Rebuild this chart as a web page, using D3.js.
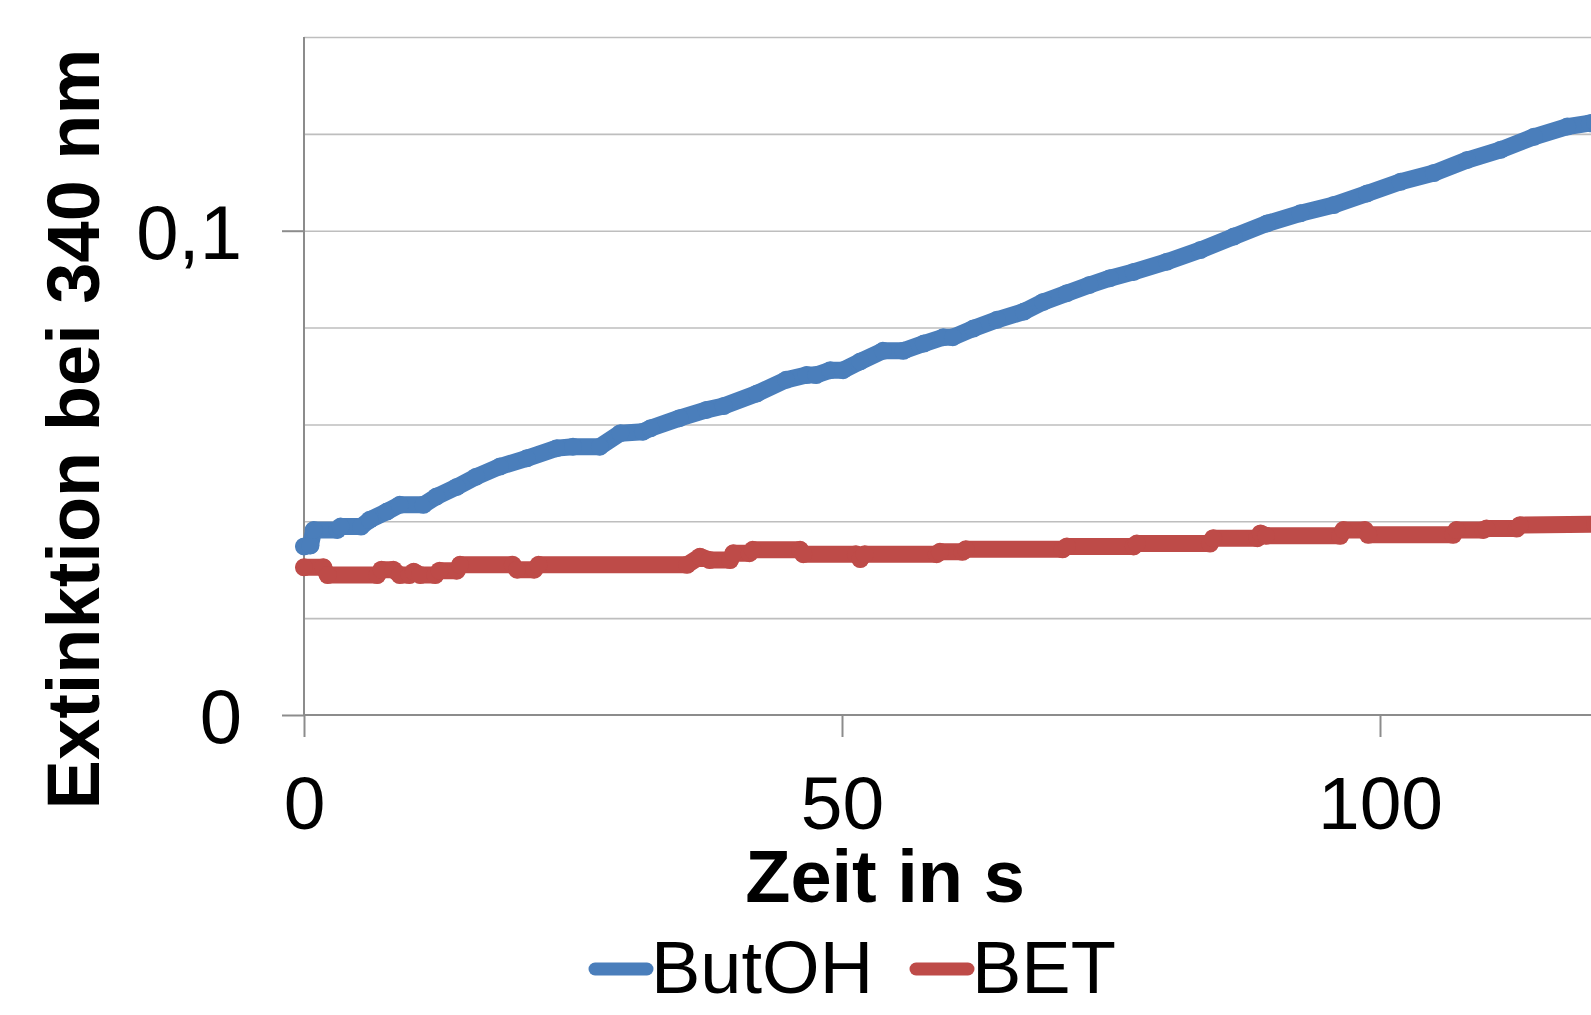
<!DOCTYPE html>
<html>
<head>
<meta charset="utf-8">
<script src="https://cdn.jsdelivr.net/npm/d3@7"></script>
<style>
  html, body { margin: 0; padding: 0; background: #fff; overflow: hidden; }
  svg { display: block; font-family: "Liberation Sans", Arial, sans-serif; }
</style>
</head>
<body>
<svg id="chart" width="1591" height="1015"></svg>
<script>
// ---- data ----
const seriesNames = ["ButOH", "BET"];
const seriesColors = ["#4A7EBB", "#BE4B48"];
const butohTime = [0,0.6,0.9,3.1,3.4,5.3,6.1,7.7,8.9,11.1,12.3,14.2,16.0,18.2,20.7,23.5,25,27.5,29.4,31.5,32.2,34.9,37.4,39.0,42.1,44.8,46.7,47.6,48.9,50.1,51.7,53.8,55.7,57.6,59.4,60.3,62.2,64.4,66.9,68.7,70.9,73.0,74.9,77.1,80.2,83.3,86.4,89.5,92.6,95.7,98.8,101.9,105.0,108.1,111.2,114.3,117.4,119.5,120];
const butohValues = [0.0348,0.0350,0.0382,0.0382,0.0389,0.0389,0.0403,0.0420,0.0434,0.0434,0.0451,0.0471,0.0492,0.0513,0.0530,0.0551,0.0554,0.0554,0.0582,0.0585,0.0592,0.0613,0.0630,0.0638,0.0664,0.0692,0.0702,0.0702,0.0712,0.0712,0.0730,0.0752,0.0752,0.0767,0.0780,0.0780,0.0798,0.0816,0.0833,0.0853,0.0871,0.0888,0.0902,0.0915,0.0936,0.0960,0.0988,0.1015,0.1036,0.1053,0.1077,0.1101,0.1119,0.1146,0.1167,0.1194,0.1215,0.1222,0.1224];
const betTime = [0,1.8,2.2,6.8,7.2,8.3,8.9,9.8,10.2,10.8,12.2,12.6,14.2,14.5,19.4,19.8,21.4,21.8,35.6,36.8,37.7,39.6,39.9,41.4,41.7,46.1,46.4,51.3,51.7,52.1,58.8,59.1,61.2,61.5,70.5,70.9,77.1,77.4,84.2,84.5,88.6,88.9,89.4,96.3,96.6,98.6,98.9,106.8,107.1,109.6,109.9,112.7,113.0,120];
const betValues = [0.0305,0.0305,0.0289,0.0289,0.0300,0.0300,0.0289,0.0289,0.0296,0.0289,0.0289,0.0298,0.0298,0.0310,0.0310,0.0300,0.0300,0.0310,0.0310,0.0327,0.0320,0.0320,0.0334,0.0334,0.0341,0.0341,0.0332,0.0332,0.0322,0.0332,0.0332,0.0337,0.0337,0.0342,0.0342,0.0348,0.0348,0.0354,0.0354,0.0365,0.0365,0.0375,0.0370,0.0370,0.0382,0.0382,0.0372,0.0372,0.0382,0.0382,0.0385,0.0385,0.0392,0.0394];
const xTickValues = [0, 50, 100];
const yTickValues = [0, 0.1];
const yGridValues = [0.02, 0.04, 0.06, 0.08, 0.10, 0.12, 0.14];
const xTitle = "Zeit in s";
const yTitle = "Extinktion bei 340 nm";

// ---- layout ----
const svg = d3.select("#chart");
const pLeft = 304, pRight = 304 + 120 * 10.76, pTop = 37, pBottom = 715;
const x = d3.scaleLinear().domain([0, 120]).range([pLeft, pRight]);
const y = d3.scaleLinear().domain([0, 0.14]).range([pBottom, pTop]);
const deFmt = d3.formatLocale({decimal: ",", thousands: ".", grouping: [3], currency: ["", " €"]}).format("~g");

// gridlines
svg.append("g")
  .attr("transform", `translate(${pLeft},0)`)
  .call(d3.axisLeft(y).tickValues(yGridValues).tickSize(-(pRight - pLeft)).tickFormat(""))
  .call(g => g.select(".domain").remove())
  .call(g => g.selectAll(".tick line").attr("stroke", "#BEBEBE").attr("stroke-width", 1.6));

// y axis
const yAxis = svg.append("g")
  .attr("transform", `translate(${pLeft},0)`)
  .call(d3.axisLeft(y).tickValues(yTickValues).tickSize(22).tickPadding(40).tickFormat(deFmt));
yAxis.select(".domain").attr("stroke", "#8C8C8C").attr("stroke-width", 2).attr("d", `M0,${pTop}V${pBottom}`);
yAxis.selectAll(".tick line").attr("stroke", "#8C8C8C").attr("stroke-width", 2);
yAxis.selectAll(".tick text").attr("font-size", 76).attr("fill", "#000").attr("dy", "0.36em").attr("x", -62);

// x axis
const xAxis = svg.append("g")
  .attr("transform", `translate(0,${pBottom})`)
  .call(d3.axisBottom(x).tickValues(xTickValues).tickSize(22).tickPadding(40).tickFormat(deFmt));
xAxis.select(".domain").attr("stroke", "#8C8C8C").attr("stroke-width", 2).attr("d", `M${pLeft},0H${pRight}`);
xAxis.selectAll(".tick line").attr("stroke", "#8C8C8C").attr("stroke-width", 2);
xAxis.selectAll(".tick text").attr("font-size", 75).attr("fill", "#000").attr("dy", null).attr("y", 114);

// series
const series = [
  {name: seriesNames[0], color: seriesColors[0], pts: butohTime.map((t, i) => [t, butohValues[i]])},
  {name: seriesNames[1], color: seriesColors[1], pts: betTime.map((t, i) => [t, betValues[i]])}
];
const lineGen = d3.line().x(d => x(d[0])).y(d => y(d[1]));
series.forEach(s => {
  svg.append("path").datum(s.pts)
    .attr("d", lineGen).attr("fill", "none")
    .style("stroke", s.color).style("stroke-width", "17px")
    .style("stroke-linejoin", "round").style("stroke-linecap", "round");
  svg.append("g").selectAll("circle").data(s.pts).join("circle")
    .attr("cx", d => x(d[0])).attr("cy", d => y(d[1])).attr("r", 9)
    .attr("fill", s.color);
});

// titles
svg.append("text").attr("x", 885).attr("y", 902).attr("text-anchor", "middle")
  .attr("font-size", 74).attr("font-weight", "bold").attr("fill", "#000").text(xTitle);
svg.append("text").attr("transform", "translate(99,429) rotate(-90)").attr("text-anchor", "middle")
  .attr("font-size", 74).attr("font-weight", "bold").attr("fill", "#000").text(yTitle);

// legend
const legendItems = [{x0: 595, tx: 651}, {x0: 916, tx: 972}];
series.forEach((s, i) => {
  const it = legendItems[i];
  svg.append("line").attr("x1", it.x0).attr("x2", it.x0 + 52).attr("y1", 969).attr("y2", 969)
    .attr("stroke", s.color).attr("stroke-width", 13).attr("stroke-linecap", "round");
  svg.append("text").attr("x", it.tx).attr("y", 993).attr("font-size", 74).attr("fill", "#000").text(s.name);
});
</script>
</body>
</html>
